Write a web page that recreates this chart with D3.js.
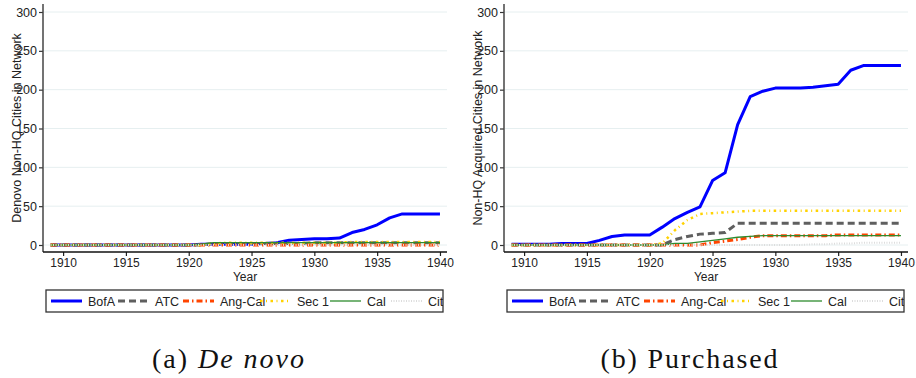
<!DOCTYPE html>
<html>
<head>
<meta charset="utf-8">
<script src="https://cdn.jsdelivr.net/npm/d3@7"></script>
<style>
  html, body { margin: 0; padding: 0; background: #fff; }
  svg { display: block; font-family: "Liberation Sans", Arial, sans-serif; }
</style>
</head>
<body>
<svg id="chart"></svg>
<script>
const years = [1909, 1910, 1911, 1912, 1913, 1914, 1915, 1916, 1917, 1918, 1919, 1920, 1921, 1922, 1923, 1924,
  1925, 1926, 1927, 1928, 1929, 1930, 1931, 1932, 1933, 1934, 1935, 1936, 1937, 1938, 1939, 1940];
const xTicks = [1910, 1915, 1920, 1925, 1930, 1935, 1940];
const yTicks = [0, 50, 100, 150, 200, 250, 300];
const seriesNames = ['BofA', 'ATC', 'Ang-Cal', 'Sec 1', 'Cal', 'Cit'];

// (a) de novo branches
const denovoBofA   = [0,0,0,0,0,0,0,0,0,0,0,0, 1,1,1,1,1,2,3,6,7,8,8,9,16,20,26,35,40,40,40,40];
const denovoATC    = [0,0,0,0,0,0,0,0,0,0,0,0, 0,2,2,2,2,2,2,2,2,3,3,3,3,3,3,3,3,3,3,3];
const denovoAngCal = [0,0,0,0,0,0,0,0,0,0,0,0, 0,0,0,0,0,0,0,0,0,0,0,0,0,0,0,0,0,0,0,0];
const denovoSec1   = [0,0,0,0,0,0,0,0,0,0,0,0, 0,2,3,3,3,3,3,3,3,3,3,3,4,4,4,4,4,4,4,4];
const denovoCal    = [0,0,0,0,0,0,0,0,0,0,0,0, 1,3,3,3,3,3,3,3,3,3,3,3,3,3,3,3,3,3,3,3];
const denovoCit    = [0,0,0,0,0,0,0,0,0,0,0,0, 0,0,0,0,0,0,0,0,0,0,0,0,0,0,0,0,0,0,0,0];

// (b) purchased branches
const purchBofA   = [1,1,1,1,2,2,2,6,11,13,13,13, 23,34,42,49,83,93,155,191,198,202,202,202,203,205,207,225,231,231,231,231];
const purchATC    = [0,0,0,0,0,0,0,0,0,0,0,0, 0,7,11,14,15,16,28,28,28,28,28,28,28,28,28,28,28,28,28,28];
const purchAngCal = [0,0,0,0,0,0,0,0,0,0,0,0, 0,0,0,0,3,5,7,10,12,12,12,12,12,12,13,13,13,13,13,13];
const purchSec1   = [0,0,0,0,0,0,0,0,0,0,0,0, 2,19,32,40,41,42,43,44,44,44,44,44,44,44,44,44,44,44,44,44];
const purchCal    = [0,0,0,0,0,0,0,0,0,0,0,0, 0,2,2,4,6,8,10,11,12,12,12,12,12,12,12,12,12,12,12,12];
const purchCit    = [0,0,0,0,0,0,0,0,0,0,0,0, 0,0,0,0,0,0,0,0,0,0,0,0,1,1,2,2,3,3,3,3];

const styles = {
  'BofA':    { color: '#0000ff', width: 3,   dash: null },
  'ATC':     { color: '#5f5f5f', width: 3,   dash: '7,4' },
  'Ang-Cal': { color: '#ff4500', width: 3,   dash: '6,3,1.5,3' },
  'Sec 1':   { color: '#ffd200', width: 2.5, dash: '2.5,3.5,1,3.5' },
  'Cal':     { color: '#2e8b2e', width: 1.3, dash: null },
  'Cit':     { color: '#dcdcdc', width: 2,   dash: '1,1.5' },
};

const panels = [
  { off: 0, ytitle: 'Denovo Non-HQ Cities in Network', label: '(a) ', italic: 'De novo', capW: 152,
    data: [denovoBofA, denovoATC, denovoAngCal, denovoSec1, denovoCal, denovoCit] },
  { off: 461, ytitle: 'Non-HQ Acquired Cities in Network', label: '(b) Purchased', italic: null, capW: 177,
    data: [purchBofA, purchATC, purchAngCal, purchSec1, purchCal, purchCit] },
];

const W = 916, H = 378;
const plot = { left: 43, top: 4, width: 404, height: 248 };
const fontSize = 12;

const svg = d3.select('#chart').attr('width', W).attr('height', H);

const x = d3.scaleLinear().domain([1908.4, 1940.56]).range([0, plot.width]);
const y = d3.scaleLinear().domain([0, 300]).range([241, 8]);

const line = d3.line().x((d) => x(d.year)).y((d) => y(d.value));

// legend layout (offsets from box left)
const legendSample = [5, 72, 137, 214, 284, 345];

panels.forEach((p) => {
  const g = svg.append('g').attr('transform', `translate(${plot.left + p.off},${plot.top})`);

  // gridlines
  g.append('g')
    .selectAll('line')
    .data(yTicks)
    .join('line')
    .attr('x1', 1).attr('x2', plot.width)
    .attr('y1', (d) => y(d)).attr('y2', (d) => y(d))
    .attr('stroke', '#e6eff0')
    .attr('stroke-width', 1);

  // series
  p.data.forEach((vals, i) => {
    const st = styles[seriesNames[i]];
    g.append('path')
      .datum(years.map((yr, j) => ({ year: yr, value: vals[j] })))
      .attr('fill', 'none')
      .attr('stroke', st.color)
      .attr('stroke-width', st.width)
      .attr('stroke-dasharray', st.dash)
      .attr('stroke-linejoin', 'round')
      .attr('d', line);
  });

  // y axis
  const ya = g.append('g')
    .call(d3.axisLeft(y).tickValues(yTicks).tickSize(4).tickPadding(2));
  ya.select('.domain').remove();
  ya.selectAll('.tick line').attr('stroke', '#333').attr('stroke-width', 1.2);
  ya.selectAll('text').attr('font-size', 12.5).attr('fill', '#222')
    .attr('font-family', '"Liberation Sans", Arial, sans-serif');
  g.append('line')
    .attr('x1', 0).attr('x2', 0).attr('y1', 0).attr('y2', plot.height)
    .attr('stroke', '#444').attr('stroke-width', 1.5);

  // x axis
  const xa = g.append('g')
    .attr('transform', `translate(0,${plot.height})`)
    .call(d3.axisBottom(x).tickValues(xTicks).tickFormat(d3.format('d')).tickSize(4).tickPadding(2));
  xa.select('.domain').remove();
  xa.selectAll('.tick line').attr('stroke', '#222').attr('stroke-width', 1.2);
  xa.selectAll('text').attr('font-size', fontSize).attr('fill', '#222')
    .attr('font-family', '"Liberation Sans", Arial, sans-serif');
  g.append('line')
    .attr('x1', 0).attr('x2', plot.width).attr('y1', plot.height).attr('y2', plot.height)
    .attr('stroke', '#111').attr('stroke-width', 1.5);

  // axis titles
  g.append('text')
    .attr('x', plot.width / 2).attr('y', 281 - plot.top)
    .attr('text-anchor', 'middle')
    .attr('font-size', fontSize).attr('fill', '#222')
    .text('Year');

  g.append('text')
    .attr('transform', `translate(${-22},${plot.height / 2}) rotate(-90)`)
    .attr('text-anchor', 'middle')
    .attr('font-size', 12.5).attr('fill', '#222')
    .text(p.ytitle);

  // legend
  const lg = svg.append('g').attr('transform', `translate(${46 + p.off},290)`);
  lg.append('rect')
    .attr('width', 397).attr('height', 22)
    .attr('fill', '#fff').attr('stroke', '#333').attr('stroke-width', 1.3);
  const clip = lg.append('clipPath').attr('id', `lgclip${p.off}`);
  clip.append('rect').attr('width', 397).attr('height', 22);
  const items = lg.append('g').attr('clip-path', `url(#lgclip${p.off})`);
  seriesNames.forEach((name, i) => {
    const st = styles[name];
    items.append('line')
      .attr('x1', legendSample[i]).attr('x2', legendSample[i] + 31)
      .attr('y1', 11).attr('y2', 11)
      .attr('stroke', st.color)
      .attr('stroke-width', st.width)
      .attr('stroke-dasharray', st.dash);
    items.append('text')
      .attr('x', legendSample[i] + 37).attr('y', 15.5)
      .attr('font-size', 12.5).attr('fill', '#222')
      .text(name);
  });

  // caption
  const cap = svg.append('text')
    .attr('x', 228 + p.off).attr('y', 368)
    .attr('text-anchor', 'middle')
    .attr('font-family', '"Liberation Serif", "Times New Roman", serif')
    .attr('font-size', 28).attr('fill', '#111')
    .attr('textLength', p.capW).attr('lengthAdjust', 'spacing');
  cap.append('tspan').text(p.label);
  if (p.italic) cap.append('tspan').attr('font-style', 'italic').text(p.italic);
});
</script>
</body>
</html>
